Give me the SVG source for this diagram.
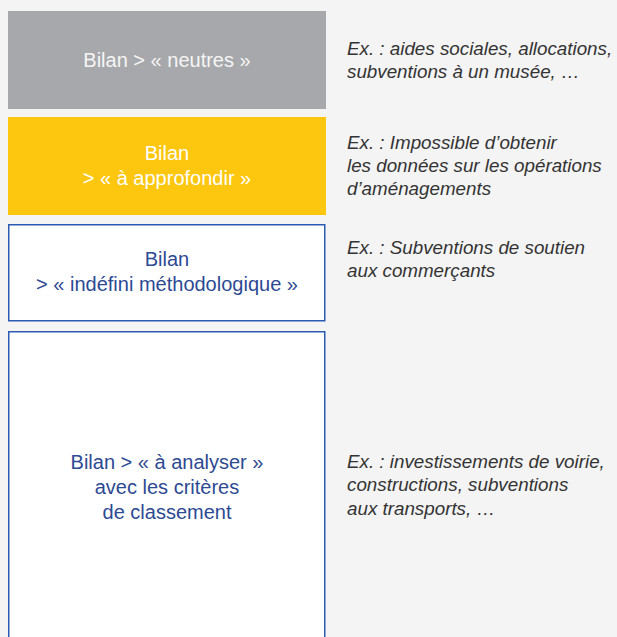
<svg xmlns="http://www.w3.org/2000/svg" width="617" height="637" viewBox="0 0 617 637">
<style>
.box-t{font-family:"Liberation Sans",Arial,sans-serif;font-size:20px;text-anchor:middle}
.ex{font-family:"Liberation Sans",Arial,sans-serif;font-size:18.8px;font-style:italic;fill:#333333}
.blue{fill:#ffffff;stroke:#2a5bb0;stroke-width:1.5}
</style>
<rect x="0" y="0" width="617" height="637" fill="#f4f4f4"/>
<g id="node-neutres">
<rect x="8" y="11" width="318" height="98" fill="#a7a8ab"/>
<text class="box-t" x="167" y="67" fill="#f5f5f5">Bilan &gt; « neutres »</text>
</g>
<g id="node-approfondir">
<rect x="8" y="117" width="318" height="98" fill="#fdc60f"/>
<text class="box-t" x="167" y="160" fill="#ffffff">Bilan</text>
<text class="box-t" x="167" y="185" fill="#ffffff">&gt; « à approfondir »</text>
</g>
<g id="node-indefini">
<rect class="blue" x="8.75" y="224.75" width="316" height="96"/>
<text class="box-t" x="167" y="266" fill="#2d4a93">Bilan</text>
<text class="box-t" x="167" y="291" fill="#2d4a93">&gt; « indéfini méthodologique »</text>
</g>
<g id="node-analyser">
<rect class="blue" x="8.75" y="331.75" width="316" height="320"/>
<text class="box-t" x="167" y="469" fill="#2d4a93">Bilan &gt; « à analyser »</text>
<text class="box-t" x="167" y="494" fill="#2d4a93">avec les critères</text>
<text class="box-t" x="167" y="519" fill="#2d4a93">de classement</text>
</g>
<g id="examples">
<text class="ex" x="347" y="55">Ex. : aides sociales, allocations,</text>
<text class="ex" x="347" y="78">subventions à un musée, …</text>
<text class="ex" x="347" y="149">Ex. : Impossible d’obtenir</text>
<text class="ex" x="347" y="172">les données sur les opérations</text>
<text class="ex" x="347" y="195">d’aménagements</text>
<text class="ex" x="347" y="254">Ex. : Subventions de soutien</text>
<text class="ex" x="347" y="277">aux commerçants</text>
<text class="ex" x="347" y="468">Ex. : investissements de voirie,</text>
<text class="ex" x="347" y="491">constructions, subventions</text>
<text class="ex" x="347" y="515">aux transports, …</text>
</g>
<g id="connectors"/>
</svg>
